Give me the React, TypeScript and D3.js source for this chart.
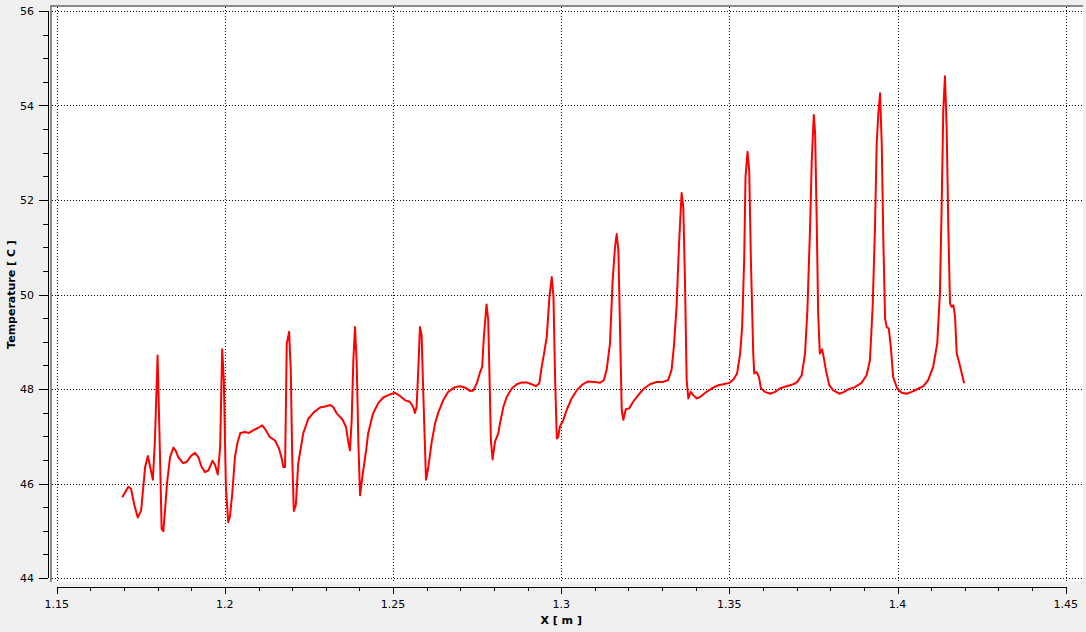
import React from "react";
import * as d3 from "d3";

const xValues: number[] = [
  1.1695, 1.1713, 1.1721, 1.1731, 1.1741, 1.1751, 1.1763, 1.1771, 1.1778, 1.1786,
  1.1792, 1.18, 1.1807, 1.1812, 1.1817, 1.1822, 1.1828, 1.1837, 1.1847, 1.1854,
  1.1862, 1.1876, 1.1887, 1.1899, 1.1911, 1.1921, 1.1931, 1.1941, 1.1951, 1.1963,
  1.1971, 1.1979, 1.1986, 1.1992, 1.1997, 1.2003, 1.201, 1.2015, 1.2022, 1.203,
  1.2038, 1.2046, 1.206, 1.2072, 1.2085, 1.2099, 1.2111, 1.2121, 1.2134, 1.2149,
  1.2161, 1.2169, 1.2174, 1.2179, 1.2184, 1.2191, 1.2196, 1.22, 1.2205, 1.2211,
  1.2218, 1.2233, 1.2248, 1.2265, 1.2283, 1.2298, 1.2313, 1.2322, 1.2332, 1.235,
  1.236, 1.2367, 1.2372, 1.2377, 1.2382, 1.2387, 1.2392, 1.2397, 1.2402, 1.241,
  1.242, 1.2426, 1.244, 1.2456, 1.2471, 1.2489, 1.2506, 1.2521, 1.2536, 1.255,
  1.256, 1.2565, 1.257, 1.2575, 1.258, 1.2585, 1.259, 1.2595, 1.2598, 1.2605,
  1.2615, 1.2625, 1.2635, 1.2649, 1.2664, 1.2684, 1.2699, 1.2714, 1.2729, 1.2739,
  1.2749, 1.2759, 1.2765, 1.277, 1.2778, 1.2783, 1.2788, 1.2791, 1.2796, 1.2803,
  1.2813, 1.2818, 1.2828, 1.2838, 1.2853, 1.2868, 1.2883, 1.2897, 1.2912, 1.2925,
  1.2935, 1.2942, 1.2949, 1.2957, 1.2965, 1.2972, 1.2977, 1.2982, 1.2987, 1.2991,
  1.2996, 1.3006, 1.3016, 1.3031, 1.3046, 1.3064, 1.308, 1.31, 1.3115, 1.3127,
  1.3135, 1.3145, 1.3153, 1.316, 1.3165, 1.317, 1.3175, 1.318, 1.3185, 1.3192,
  1.3202, 1.3214, 1.3229, 1.3246, 1.3264, 1.3284, 1.3303, 1.3318, 1.3328, 1.3335,
  1.3343, 1.335, 1.3358, 1.3363, 1.3368, 1.3373, 1.3378, 1.3385, 1.3393, 1.3403,
  1.3413, 1.3432, 1.3452, 1.3467, 1.3482, 1.35, 1.3512, 1.3523, 1.3532, 1.3538,
  1.3544, 1.3548, 1.3554, 1.3559, 1.3564, 1.3571, 1.3574, 1.3581, 1.3588, 1.3594,
  1.3606, 1.3621, 1.3636, 1.365, 1.367, 1.369, 1.3702, 1.3715, 1.3725, 1.3732,
  1.374, 1.3745, 1.3751, 1.3755, 1.376, 1.3764, 1.3769, 1.3776, 1.3782, 1.3787,
  1.3797, 1.3809, 1.3827, 1.3841, 1.3853, 1.3873, 1.3893, 1.3908, 1.3918, 1.3926,
  1.3933, 1.3938, 1.3943, 1.3948, 1.3953, 1.3958, 1.3963, 1.3968, 1.3974, 1.398,
  1.3987, 1.3999, 1.4012, 1.4027, 1.4042, 1.4057, 1.4077, 1.4091, 1.4106, 1.4118,
  1.4126, 1.4131, 1.4136, 1.4141, 1.4146, 1.4151, 1.4156, 1.4161, 1.4166, 1.4171,
  1.4176, 1.4184, 1.4191, 1.4198,
];

const temperatures: number[] = [
  45.71, 45.93, 45.89, 45.54, 45.28, 45.43, 46.35, 46.58, 46.35, 46.08,
  46.91, 48.71, 46.63, 45.04, 44.99, 45.43, 46.0, 46.56, 46.76, 46.69,
  46.55, 46.43, 46.46, 46.58, 46.65, 46.56, 46.35, 46.24, 46.28, 46.48,
  46.39, 46.19, 46.77, 48.84, 48.19, 45.93, 45.18, 45.29, 45.79, 46.56,
  46.88, 47.07, 47.09, 47.07, 47.13, 47.18, 47.23, 47.14, 46.98, 46.91,
  46.74, 46.53, 46.35, 46.35, 48.96, 49.21, 48.4, 46.63, 45.42, 45.54,
  46.42, 47.06, 47.37, 47.51, 47.61, 47.63, 47.66, 47.62, 47.49, 47.35,
  47.2, 46.88, 46.7, 47.34, 48.61, 49.31, 48.54, 46.84, 45.75, 46.21,
  46.7, 47.06, 47.47, 47.7, 47.82, 47.88, 47.92, 47.85, 47.76, 47.73,
  47.62, 47.49, 47.62, 48.4, 49.31, 49.14, 47.9, 46.77, 46.08, 46.35,
  46.88, 47.27, 47.51, 47.76, 47.94, 48.04, 48.06, 48.03, 47.96, 47.97,
  48.12, 48.36, 48.47, 49.1, 49.79, 49.46, 47.9, 46.91, 46.51, 46.88,
  47.06, 47.27, 47.62, 47.83, 48.01, 48.1, 48.14, 48.14, 48.1, 48.06,
  48.12, 48.47, 48.75, 49.1, 49.95, 50.37, 49.95, 48.19, 46.95, 46.98,
  47.2, 47.34, 47.55, 47.8, 47.97, 48.1, 48.16, 48.15, 48.13, 48.19,
  48.4, 48.96, 50.3, 51.01, 51.28, 50.94, 49.24, 47.55, 47.35, 47.57,
  47.59, 47.73, 47.87, 48.01, 48.1, 48.15, 48.15, 48.19, 48.4, 48.89,
  49.74, 51.01, 52.15, 51.86, 50.3, 48.19, 47.8, 47.94, 47.87, 47.8,
  47.83, 47.94, 48.03, 48.08, 48.1, 48.13, 48.2, 48.33, 48.75, 49.31,
  50.73, 52.49, 53.02, 52.63, 50.73, 48.75, 48.33, 48.36, 48.25, 48.01,
  47.94, 47.9, 47.94, 48.01, 48.06, 48.1, 48.15, 48.29, 48.75, 49.67,
  51.43, 52.84, 53.8, 53.41, 51.43, 49.6, 48.75, 48.84, 48.61, 48.4,
  48.08, 47.97, 47.9, 47.94, 47.99, 48.04, 48.13, 48.29, 48.61, 49.74,
  51.43, 53.2, 53.83, 54.26, 53.2, 51.08, 49.49, 49.31, 49.28, 48.89,
  48.25, 48.01, 47.92, 47.9, 47.94, 47.99, 48.06, 48.19, 48.47, 48.96,
  50.02, 51.79, 53.9, 54.62, 53.55, 51.43, 49.81, 49.74, 49.77, 49.53,
  48.75, 48.54, 48.33, 48.12,
];

const xTicks: number[] = [1.15, 1.2, 1.25, 1.3, 1.35, 1.4, 1.45];
const yTicks: number[] = [44, 46, 48, 50, 52, 54, 56];
const xTitle = "X [ m ]";
const yTitle = "Temperature [ C ]";

export default function App() {
  const W = 1086;
  const H = 632;
  const x = d3.scaleLinear().domain([1.15, 1.45]).range([56.7, 1065.7]);
  const y = d3.scaleLinear().domain([44, 56]).range([578, 11]);

  const points: [number, number][] = xValues.map((v, i) => [v, temperatures[i]]);
  const line = d3
    .line<[number, number]>()
    .x((d) => x(d[0]))
    .y((d) => y(d[1]))
    .curve(d3.curveLinear);

  const xMinor = d3.range(0, 31).map((i) => 1.15 + i * 0.01);
  const yMinor = d3.range(0, 25).map((i) => 44 + i * 0.5);

  const plotL = 51;
  const plotT = 6;
  const plotR = 1083;
  const plotB = 582;
  const axisY = 587;
  const axisX = 48;
  const font = "'DejaVu Sans', Verdana, sans-serif";

  return (
    <svg
      width={W}
      height={H}
      style={{ position: "absolute", left: 0, top: 0, display: "block" }}
    >
      <rect x={0} y={0} width={W} height={H} fill="#f0f0f0" />
      <rect x={plotL} y={plotT} width={plotR - plotL} height={plotB - plotT} fill="#ffffff" />
      <line x1={plotL - 1} y1={plotT} x2={plotR} y2={plotT} stroke="#8a8a8a" strokeWidth={2} />
      <line x1={plotL} y1={plotT} x2={plotL} y2={plotB} stroke="#8a8a8a" strokeWidth={2} />

      {/* grid */}
      <g stroke="#000" strokeWidth={1} strokeDasharray="1,2" shapeRendering="crispEdges">
        {xTicks.map((t) => (
          <line key={"gx" + t} x1={Math.round(x(t)) + 0.5} x2={Math.round(x(t)) + 0.5} y1={plotT + 1} y2={plotB} />
        ))}
        {yTicks.map((t) => (
          <line key={"gy" + t} x1={plotL + 1} x2={plotR} y1={Math.round(y(t)) + 0.5} y2={Math.round(y(t)) + 0.5} />
        ))}
      </g>

      {/* data */}
      <path d={line(points) || ""} fill="none" stroke="#ff0000" strokeWidth={2} strokeLinejoin="round" />

      {/* y axis */}
      <g stroke="#000" strokeWidth={1} shapeRendering="crispEdges">
        <line x1={axisX + 0.5} x2={axisX + 0.5} y1={y(56)} y2={y(44)} />
        {yMinor.map((t) => (
          <line
            key={"ym" + t}
            x1={t % 2 === 0 ? axisX - 9 : axisX - 5}
            x2={axisX}
            y1={Math.round(y(t)) + 0.5}
            y2={Math.round(y(t)) + 0.5}
          />
        ))}
      </g>
      <g fontFamily={font} fontSize={11} fill="#000" textAnchor="end">
        {yTicks.map((t) => (
          <text key={"yl" + t} x={34} y={y(t) + 4}>
            {d3.format("d")(t)}
          </text>
        ))}
      </g>

      {/* x axis */}
      <g stroke="#000" strokeWidth={1} shapeRendering="crispEdges">
        <line x1={x(1.15)} x2={x(1.45)} y1={axisY + 0.5} y2={axisY + 0.5} />
        {xMinor.map((t, i) => (
          <line
            key={"xm" + i}
            x1={Math.round(x(t)) + 0.5}
            x2={Math.round(x(t)) + 0.5}
            y1={axisY}
            y2={i % 5 === 0 ? axisY + 7 : axisY + 4}
          />
        ))}
      </g>
      <g fontFamily={font} fontSize={11} fill="#000" textAnchor="middle">
        {xTicks.map((t) => (
          <text key={"xl" + t} x={x(t)} y={608}>
            {d3.format("")(+t.toFixed(2))}
          </text>
        ))}
      </g>

      {/* titles */}
      <text
        x={(x(1.15) + x(1.45)) / 2}
        y={624}
        fontFamily={font}
        fontSize={11}
        fontWeight="bold"
        textAnchor="middle"
      >
        {xTitle}
      </text>
      <text
        transform={`translate(15, ${(y(44) + y(56)) / 2}) rotate(-90)`}
        fontFamily={font}
        fontSize={11}
        fontWeight="bold"
        textAnchor="middle"
      >
        {yTitle}
      </text>
    </svg>
  );
}
